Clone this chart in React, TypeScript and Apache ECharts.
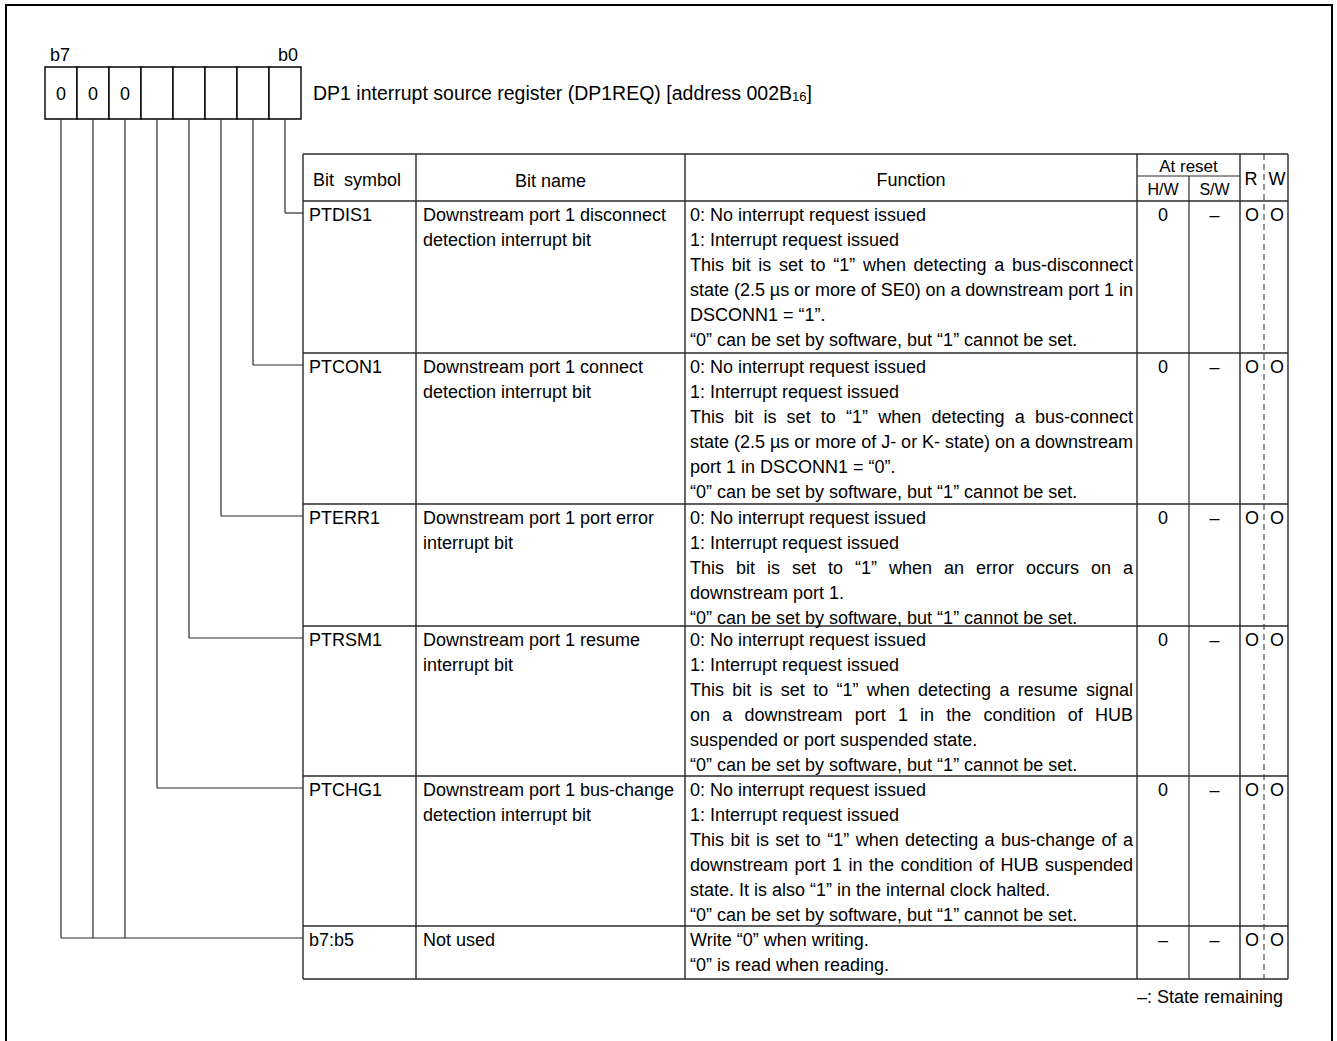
import React, { useEffect, useRef } from "react";
import * as echarts from "echarts";

// ---------- content ----------
const registerBits = ["0", "0", "0", "", "", "", "", ""]; // b7 ... b0
const bitEdgeLabels = ["b7", "b0"];
const titleMain = "DP1 interrupt source register (DP1REQ) [address 002B";
const titleSub = "16";
const titleEnd = "]";

const headerCols = ["Bit  symbol", "Bit name", "Function", "At reset", "H/W", "S/W", "R", "W"];

const bitSymbols = ["PTDIS1", "PTCON1", "PTERR1", "PTRSM1", "PTCHG1", "b7:b5"];

const bitNames = [
  ["Downstream port 1 disconnect", "detection interrupt bit"],
  ["Downstream port 1 connect", "detection interrupt bit"],
  ["Downstream port 1 port error", "interrupt bit"],
  ["Downstream port 1 resume", "interrupt bit"],
  ["Downstream port 1 bus-change", "detection interrupt bit"],
  ["Not used"],
];

const functionTexts = [
  [
    "0: No interrupt request issued",
    "1: Interrupt request issued",
    "This bit is set to \u201C1\u201D when detecting a bus-disconnect",
    "state (2.5 \u00B5s or more of SE0) on a downstream port 1 in",
    "DSCONN1 = \u201C1\u201D.",
    "\u201C0\u201D can be set by software, but \u201C1\u201D cannot be set.",
  ],
  [
    "0: No interrupt request issued",
    "1: Interrupt request issued",
    "This bit is set to \u201C1\u201D when detecting a bus-connect",
    "state (2.5 \u00B5s or more of J- or K- state) on a downstream",
    "port 1 in DSCONN1 = \u201C0\u201D.",
    "\u201C0\u201D can be set by software, but \u201C1\u201D cannot be set.",
  ],
  [
    "0: No interrupt request issued",
    "1: Interrupt request issued",
    "This bit is set to \u201C1\u201D when an error occurs on a",
    "downstream port 1.",
    "\u201C0\u201D can be set by software, but \u201C1\u201D cannot be set.",
  ],
  [
    "0: No interrupt request issued",
    "1: Interrupt request issued",
    "This bit is set to \u201C1\u201D when detecting a resume signal",
    "on a downstream port 1 in the condition of HUB",
    "suspended or port suspended state.",
    "\u201C0\u201D can be set by software, but \u201C1\u201D cannot be set.",
  ],
  [
    "0: No interrupt request issued",
    "1: Interrupt request issued",
    "This bit is set to \u201C1\u201D when detecting a bus-change of a",
    "downstream port 1 in the condition of HUB suspended",
    "state. It is also \u201C1\u201D in the internal clock halted.",
    "\u201C0\u201D can be set by software, but \u201C1\u201D cannot be set.",
  ],
  ["Write \u201C0\u201D when writing.", "\u201C0\u201D is read when reading."],
];

const justifiedLines = [[2, 3], [2, 3], [2], [2, 3], [2, 3], []];
const hwReset = ["0", "0", "0", "0", "0", "\u2013"];
const swReset = ["\u2013", "\u2013", "\u2013", "\u2013", "\u2013", "\u2013"];
const readFlags = ["O", "O", "O", "O", "O", "O"];
const writeFlags = ["O", "O", "O", "O", "O", "O"];
const rowBits = [[0], [1], [2], [3], [4], [7, 6, 5]];
const footnote = "\u2013: State remaining";

// ---------- layout ----------
const W = 1337;
const H = 1041;
const FONT = 18;
const FAMILY = '"Liberation Sans", Arial, Helvetica, sans-serif';
const LH = 25;
const REG_X = 45;
const REG_Y = 67;
const CELL_W = 32;
const CELL_H = 52;
const COLS = [303, 416, 685, 1137, 1189, 1240, 1264, 1288];
const TABLE_TOP = 154;
const SUB_Y = 176;
const ROW_Y = [201, 353, 504, 626, 776, 926, 979];
const LINE_COLOR = "#2a2a2a";

function measure(text: string, size = FONT) {
  const c = document.createElement("canvas").getContext("2d")!;
  c.font = `${size}px "Liberation Sans", Arial, sans-serif`;
  return c.measureText(text).width;
}

function txt(text: string, x: number, y: number, align = "left", size = FONT): any {
  return {
    type: "text",
    x,
    y,
    silent: true,
    z: 10,
    style: {
      text,
      fill: "#000",
      fontSize: size,
      fontFamily: FAMILY,
      align,
      verticalAlign: "middle",
    },
  };
}

function ln(x1: number, y1: number, x2: number, y2: number, lw = 1.2, dash?: number[]): any {
  return {
    type: "line",
    silent: true,
    shape: { x1, y1, x2, y2 },
    style: { stroke: LINE_COLOR, lineWidth: lw, lineDash: dash },
  };
}

function buildGraphics() {
  const g: any[] = [];
  // outer frame
  g.push({
    type: "rect",
    silent: true,
    shape: { x: 6, y: 5, width: 1326, height: 1200 },
    style: { fill: "none", stroke: "#000", lineWidth: 2 },
  });

  // bit labels
  g.push(txt(bitEdgeLabels[0], 50, 55));
  g.push(txt(bitEdgeLabels[1], 278, 55));

  // register cells
  registerBits.forEach((v, i) => {
    g.push({
      type: "rect",
      silent: true,
      shape: { x: REG_X + CELL_W * i, y: REG_Y, width: CELL_W, height: CELL_H },
      style: { fill: "#fff", stroke: "#000", lineWidth: 1.4 },
    });
    if (v) g.push(txt(v, REG_X + CELL_W * i + CELL_W / 2, REG_Y + CELL_H / 2 + 1, "center"));
  });

  // title
  const TS = 19.5;
  const tx = 313;
  const ty = 93;
  g.push(txt(titleMain, tx, ty, "left", TS));
  const w1 = measure(titleMain, TS);
  g.push(txt(titleSub, tx + w1, ty + 3, "left", 13));
  const w2 = measure(titleSub, 13);
  g.push(txt(titleEnd, tx + w1 + w2, ty, "left", TS));

  // connectors
  rowBits.forEach((bits, r) => {
    const cy = ROW_Y[r] + 12;
    let minX = Infinity;
    bits.forEach((b) => {
      const cx = REG_X + CELL_W * (7 - b) + CELL_W / 2;
      minX = Math.min(minX, cx);
      g.push(ln(cx, REG_Y + CELL_H, cx, cy, 1.2));
    });
    g.push(ln(minX, cy, COLS[0], cy, 1.2));
  });

  // table frame lines
  const [c0, c1, c2, c3, c4, c5, c6, c7] = COLS;
  const bottom = ROW_Y[ROW_Y.length - 1];
  g.push(ln(c0, TABLE_TOP, c7, TABLE_TOP, 1.4));
  ROW_Y.forEach((y) => g.push(ln(c0, y, c7, y, 1.6)));
  g.push(ln(c3, SUB_Y, c5, SUB_Y, 1.2));
  [c0, c1, c2, c3, c5, c7].forEach((x) => g.push(ln(x, TABLE_TOP, x, bottom, 1.4)));
  g.push(ln(c4, SUB_Y, c4, bottom, 1.2));
  g.push(ln(c6, TABLE_TOP, c6, bottom, 1, [6, 4]));

  // header
  g.push(txt(headerCols[0], c0 + 10, 180));
  g.push(txt(headerCols[1], (c1 + c2) / 2, 181, "center"));
  g.push(txt(headerCols[2], (c2 + c3) / 2, 180, "center"));
  g.push(txt(headerCols[3], (c3 + c5) / 2, 166, "center", 17));
  g.push(txt(headerCols[4], (c3 + c4) / 2, 189, "center", 16));
  g.push(txt(headerCols[5], (c4 + c5) / 2, 189, "center", 16));
  g.push(txt(headerCols[6], (c5 + c6) / 2 - 1, 179, "center"));
  g.push(txt(headerCols[7], (c6 + c7) / 2 + 1, 179, "center"));

  // rows
  const fnLeft = 690;
  const fnRight = 1133;
  bitSymbols.forEach((sym, r) => {
    const top = ROW_Y[r];
    const y0 = top + 14;
    g.push(txt(sym, c0 + 6, y0));
    bitNames[r].forEach((s, i) => g.push(txt(s, c1 + 7, y0 + i * LH)));
    functionTexts[r].forEach((s, i) => {
      const y = y0 + i * LH;
      if (justifiedLines[r].indexOf(i) >= 0) {
        const words = s.split(" ");
        const widths = words.map((w) => measure(w));
        const sum = widths.reduce((a, b) => a + b, 0);
        const gap = (fnRight - fnLeft - sum) / (words.length - 1);
        let x = fnLeft;
        words.forEach((w, k) => {
          g.push(txt(w, x, y));
          x += widths[k] + gap;
        });
      } else {
        g.push(txt(s, fnLeft, y));
      }
    });
    g.push(txt(hwReset[r], (c3 + c4) / 2, y0, "center"));
    g.push(txt(swReset[r], (c4 + c5) / 2, y0, "center"));
    g.push(txt(readFlags[r], (c5 + c6) / 2, y0, "center"));
    g.push(txt(writeFlags[r], (c6 + c7) / 2 + 1, y0, "center"));
  });

  g.push(txt(footnote, 1283, 997, "right"));
  return g;
}

export default function App() {
  const ref = useRef<HTMLDivElement>(null);
  useEffect(() => {
    document.body.style.margin = "0";
    if (!ref.current) return;
    const chart = echarts.init(ref.current, null, { renderer: "svg" });
    chart.setOption({
      animation: false,
      backgroundColor: "#fff",
      graphic: { elements: buildGraphics() },
    });
    return () => chart.dispose();
  }, []);
  return <div ref={ref} style={{ width: W, height: H }} />;
}
